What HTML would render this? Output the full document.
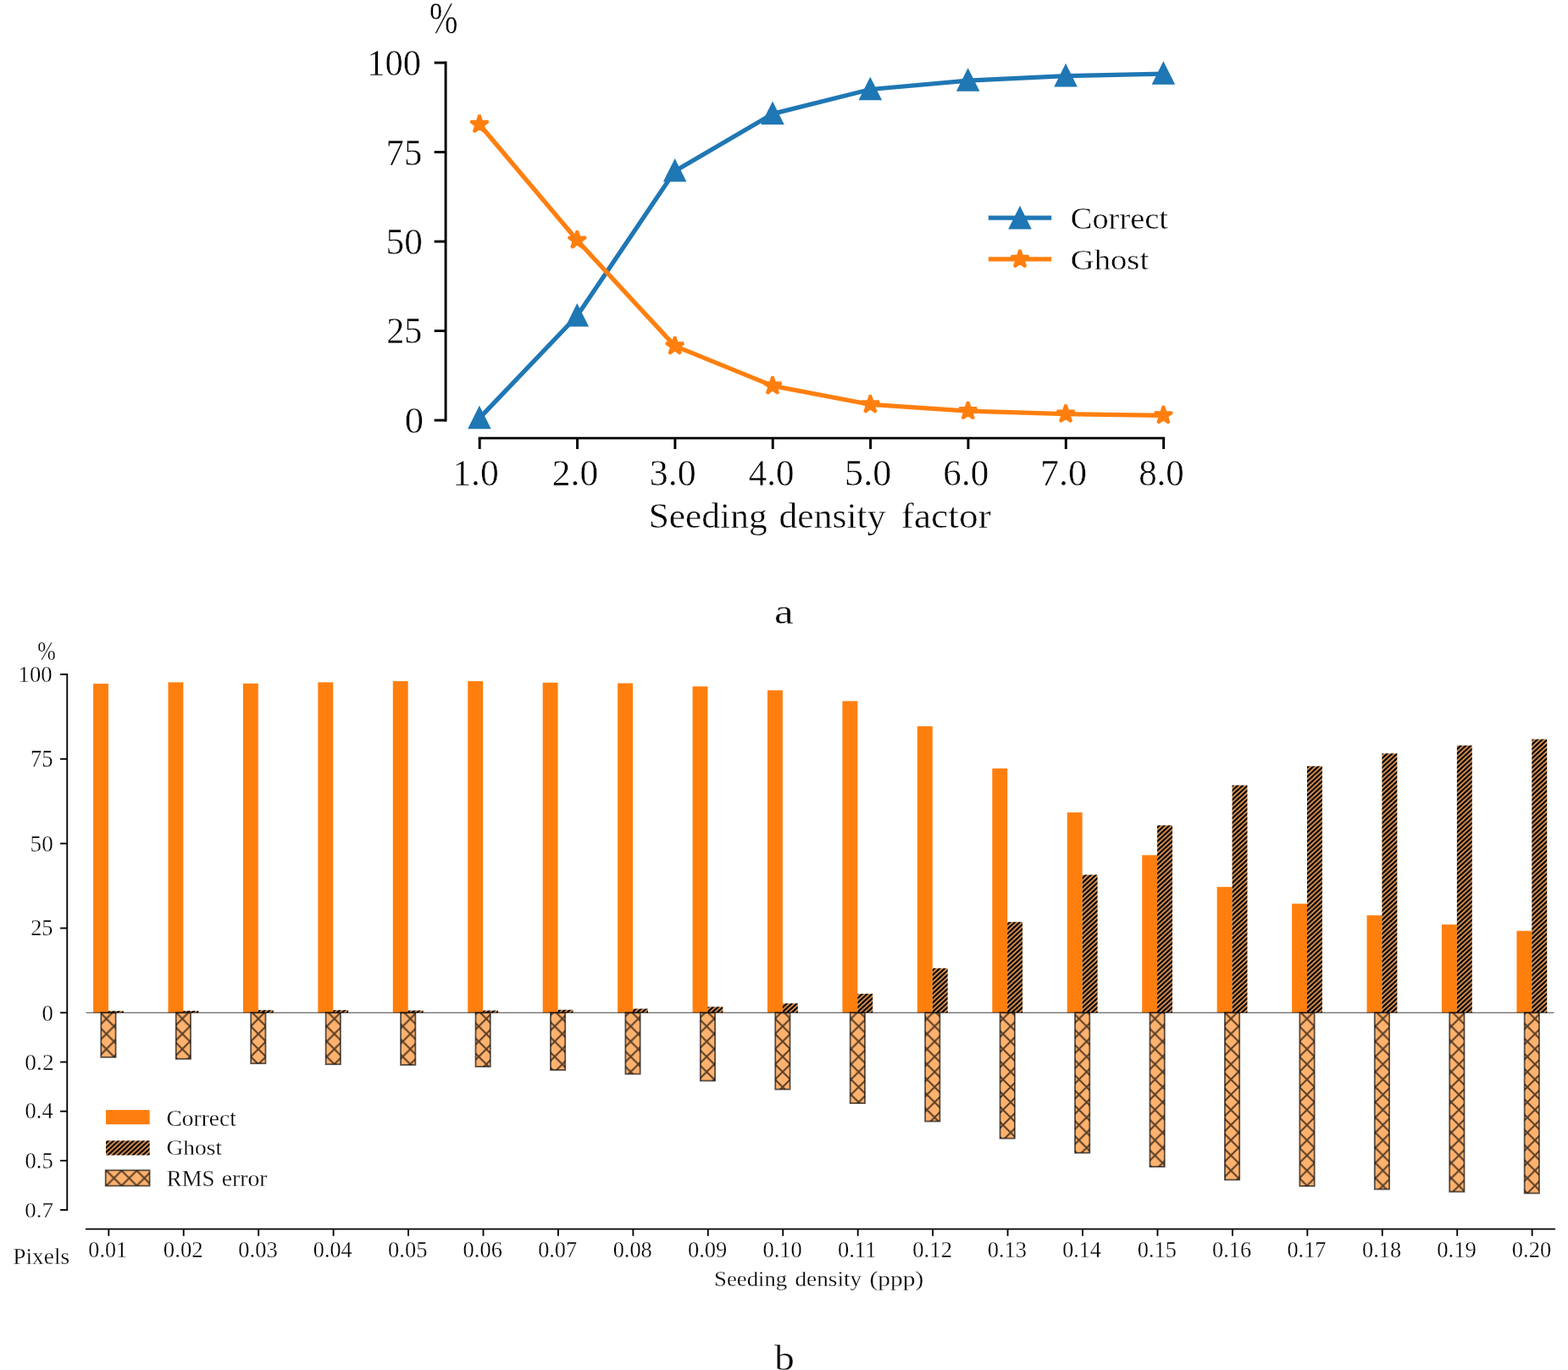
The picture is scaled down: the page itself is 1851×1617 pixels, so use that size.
<!DOCTYPE html>
<html lang="en">
<head>
<meta charset="utf-8">
<title>Seeding density: correct vs ghost particles</title>
<style>html,body{margin:0;padding:0;background:#fff;overflow:hidden}svg{display:block}text{font-family:"Liberation Serif",serif;fill:#000;stroke:#fff}</style>
</head>
<body>
<svg width="1851" height="1617" viewBox="0 0 1851 1617">
<defs>
<pattern id="hg" patternUnits="userSpaceOnUse" x="0.96" y="3.25" width="5.9" height="5.45">
<rect width="5.9" height="5.45" fill="#ffa75b"/>
<path d="M-5.9 10.9 L5.9 0 M0 10.9 L11.8 0 M-5.9 5.45 L5.9 -5.45" stroke="#000" stroke-width="2.4" fill="none"/>
</pattern>
<pattern id="hx" patternUnits="userSpaceOnUse" x="17.92" y="1.76" width="17.94" height="17.92">
<rect width="17.94" height="17.92" fill="#ffb26e"/>
<path d="M-17.94 -17.92 L35.88 35.84 M-17.94 35.84 L35.88 -17.92" stroke="#000" stroke-opacity="0.65" stroke-width="2" fill="none"/>
</pattern>
</defs>
<rect width="1851" height="1617" fill="#fff"/>
<g id="chart-a">
<g stroke="#000" stroke-width="2.95" fill="none">
<path d="M526.1 72.58 V497.53"/>
<path d="M564.73 517.13 H1375.12"/>
<path d="M512.65 74.05 H526.1"/>
<path d="M512.65 179.55 H526.1"/>
<path d="M512.65 285.05 H526.1"/>
<path d="M512.65 390.55 H526.1"/>
<path d="M512.65 496.05 H526.1"/>
<path d="M566.2 517.13 V530"/>
<path d="M681.55 517.13 V530"/>
<path d="M796.9 517.13 V530"/>
<path d="M912.25 517.13 V530"/>
<path d="M1027.6 517.13 V530"/>
<path d="M1142.95 517.13 V530"/>
<path d="M1258.3 517.13 V530"/>
<path d="M1373.65 517.13 V530"/>
</g>
<path d="M565.95 493.6 L681.3 372.8 L796.65 201.9 L912 134.4 L1027.35 105.5 L1142.7 95.1 L1258.05 89.7 L1373.4 87.1" fill="none" stroke="#1f77b4" stroke-width="5.25" stroke-linejoin="round"/>
<path d="M565.95 482.65 L555 504.55 L576.9 504.55 Z" fill="#1f77b4" stroke="#1f77b4" stroke-width="3.5" stroke-linejoin="miter" stroke-miterlimit="10"/>
<path d="M681.3 361.85 L670.35 383.75 L692.25 383.75 Z" fill="#1f77b4" stroke="#1f77b4" stroke-width="3.5" stroke-linejoin="miter" stroke-miterlimit="10"/>
<path d="M796.65 190.95 L785.7 212.85 L807.6 212.85 Z" fill="#1f77b4" stroke="#1f77b4" stroke-width="3.5" stroke-linejoin="miter" stroke-miterlimit="10"/>
<path d="M912 123.45 L901.05 145.35 L922.95 145.35 Z" fill="#1f77b4" stroke="#1f77b4" stroke-width="3.5" stroke-linejoin="miter" stroke-miterlimit="10"/>
<path d="M1027.35 94.55 L1016.4 116.45 L1038.3 116.45 Z" fill="#1f77b4" stroke="#1f77b4" stroke-width="3.5" stroke-linejoin="miter" stroke-miterlimit="10"/>
<path d="M1142.7 84.15 L1131.75 106.05 L1153.65 106.05 Z" fill="#1f77b4" stroke="#1f77b4" stroke-width="3.5" stroke-linejoin="miter" stroke-miterlimit="10"/>
<path d="M1258.05 78.75 L1247.1 100.65 L1269 100.65 Z" fill="#1f77b4" stroke="#1f77b4" stroke-width="3.5" stroke-linejoin="miter" stroke-miterlimit="10"/>
<path d="M1373.4 76.15 L1362.45 98.05 L1384.35 98.05 Z" fill="#1f77b4" stroke="#1f77b4" stroke-width="3.5" stroke-linejoin="miter" stroke-miterlimit="10"/>
<path d="M565.95 146.8 L681.3 283.5 L796.65 408.4 L912 455.4 L1027.35 477.4 L1142.7 485.1 L1258.05 488.7 L1373.4 490.3" fill="none" stroke="#ff7f0e" stroke-width="5.25" stroke-linejoin="round"/>
<path d="M565.95 135.9 L568.4 143.43 L576.32 143.43 L569.91 148.09 L572.36 155.62 L565.95 150.96 L559.54 155.62 L561.99 148.09 L555.58 143.43 L563.5 143.43 Z" fill="#ff7f0e" stroke="#ff7f0e" stroke-width="3.5" stroke-linejoin="bevel"/>
<path d="M681.3 272.6 L683.75 280.13 L691.67 280.13 L685.26 284.79 L687.71 292.32 L681.3 287.66 L674.89 292.32 L677.34 284.79 L670.93 280.13 L678.85 280.13 Z" fill="#ff7f0e" stroke="#ff7f0e" stroke-width="3.5" stroke-linejoin="bevel"/>
<path d="M796.65 397.5 L799.1 405.03 L807.02 405.03 L800.61 409.69 L803.06 417.22 L796.65 412.56 L790.24 417.22 L792.69 409.69 L786.28 405.03 L794.2 405.03 Z" fill="#ff7f0e" stroke="#ff7f0e" stroke-width="3.5" stroke-linejoin="bevel"/>
<path d="M912 444.5 L914.45 452.03 L922.37 452.03 L915.96 456.69 L918.41 464.22 L912 459.56 L905.59 464.22 L908.04 456.69 L901.63 452.03 L909.55 452.03 Z" fill="#ff7f0e" stroke="#ff7f0e" stroke-width="3.5" stroke-linejoin="bevel"/>
<path d="M1027.35 466.5 L1029.8 474.03 L1037.72 474.03 L1031.31 478.69 L1033.76 486.22 L1027.35 481.56 L1020.94 486.22 L1023.39 478.69 L1016.98 474.03 L1024.9 474.03 Z" fill="#ff7f0e" stroke="#ff7f0e" stroke-width="3.5" stroke-linejoin="bevel"/>
<path d="M1142.7 474.2 L1145.15 481.73 L1153.07 481.73 L1146.66 486.39 L1149.11 493.92 L1142.7 489.26 L1136.29 493.92 L1138.74 486.39 L1132.33 481.73 L1140.25 481.73 Z" fill="#ff7f0e" stroke="#ff7f0e" stroke-width="3.5" stroke-linejoin="bevel"/>
<path d="M1258.05 477.8 L1260.5 485.33 L1268.42 485.33 L1262.01 489.99 L1264.46 497.52 L1258.05 492.86 L1251.64 497.52 L1254.09 489.99 L1247.68 485.33 L1255.6 485.33 Z" fill="#ff7f0e" stroke="#ff7f0e" stroke-width="3.5" stroke-linejoin="bevel"/>
<path d="M1373.4 479.4 L1375.85 486.93 L1383.77 486.93 L1377.36 491.59 L1379.81 499.12 L1373.4 494.46 L1366.99 499.12 L1369.44 491.59 L1363.03 486.93 L1370.95 486.93 Z" fill="#ff7f0e" stroke="#ff7f0e" stroke-width="3.5" stroke-linejoin="bevel"/>
<path d="M1166.9 257.1 H1241.2" stroke="#1f77b4" stroke-width="5.25" fill="none"/>
<path d="M1204 246.75 L1193.05 268.65 L1214.95 268.65 Z" fill="#1f77b4" stroke="#1f77b4" stroke-width="3.5" stroke-linejoin="miter" stroke-miterlimit="10"/>
<path d="M1166.9 305.9 H1241.2" stroke="#ff7f0e" stroke-width="5.25" fill="none"/>
<path d="M1204 295 L1206.45 302.53 L1214.37 302.53 L1207.96 307.19 L1210.41 314.72 L1204 310.06 L1197.59 314.72 L1200.04 307.19 L1193.63 302.53 L1201.55 302.53 Z" fill="#ff7f0e" stroke="#ff7f0e" stroke-width="3.5" stroke-linejoin="bevel"/>
</g>
<g id="chart-b">
<g fill="#ff7f0e">
<rect x="110.05" y="806.9" width="17.9" height="388.4"/>
<rect x="198.49" y="805.3" width="17.9" height="390"/>
<rect x="286.93" y="806.7" width="17.9" height="388.6"/>
<rect x="375.37" y="805.3" width="17.9" height="390"/>
<rect x="463.81" y="804" width="17.9" height="391.3"/>
<rect x="552.25" y="804" width="17.9" height="391.3"/>
<rect x="640.69" y="805.7" width="17.9" height="389.6"/>
<rect x="729.13" y="806.4" width="17.9" height="388.9"/>
<rect x="817.57" y="810.2" width="17.9" height="385.1"/>
<rect x="906.01" y="814.7" width="17.9" height="380.6"/>
<rect x="994.45" y="827.5" width="17.9" height="367.8"/>
<rect x="1082.89" y="857.2" width="17.9" height="338.1"/>
<rect x="1171.33" y="907" width="17.9" height="288.3"/>
<rect x="1259.77" y="958.9" width="17.9" height="236.4"/>
<rect x="1348.21" y="1009.3" width="17.9" height="186"/>
<rect x="1436.65" y="1046.8" width="17.9" height="148.5"/>
<rect x="1525.09" y="1066.6" width="17.9" height="128.7"/>
<rect x="1613.53" y="1080.3" width="17.9" height="115"/>
<rect x="1701.97" y="1091.2" width="17.9" height="104.1"/>
<rect x="1790.41" y="1098.7" width="17.9" height="96.6"/>
</g>
<g fill="url(#hg)">
<rect x="127.95" y="1193.2" width="17.9" height="2.1"/>
<rect x="216.39" y="1193" width="17.9" height="2.3"/>
<rect x="304.83" y="1192.2" width="17.9" height="3.1"/>
<rect x="393.27" y="1192.2" width="17.9" height="3.1"/>
<rect x="481.71" y="1192.6" width="17.9" height="2.7"/>
<rect x="570.15" y="1192.6" width="17.9" height="2.7"/>
<rect x="658.59" y="1191.8" width="17.9" height="3.5"/>
<rect x="747.03" y="1190.6" width="17.9" height="4.7"/>
<rect x="835.47" y="1188.3" width="17.9" height="7"/>
<rect x="923.91" y="1184.3" width="17.9" height="11"/>
<rect x="1012.35" y="1172.9" width="17.9" height="22.4"/>
<rect x="1100.79" y="1142.8" width="17.9" height="52.5"/>
<rect x="1189.23" y="1088.2" width="17.9" height="107.1"/>
<rect x="1277.67" y="1032.5" width="17.9" height="162.8"/>
<rect x="1366.11" y="974.2" width="17.9" height="221.1"/>
<rect x="1454.55" y="926.8" width="17.9" height="268.5"/>
<rect x="1542.99" y="904.3" width="17.9" height="291"/>
<rect x="1631.43" y="889.3" width="17.9" height="306"/>
<rect x="1719.87" y="879.8" width="17.9" height="315.5"/>
<rect x="1808.31" y="872.5" width="17.9" height="322.8"/>
</g>
<g fill="url(#hx)" stroke="#000" stroke-opacity="0.65" stroke-width="1.8">
<rect x="119.3" y="1195.3" width="17.3" height="52.5"/>
<rect x="207.74" y="1195.3" width="17.3" height="54.5"/>
<rect x="296.18" y="1195.3" width="17.3" height="59.9"/>
<rect x="384.62" y="1195.3" width="17.3" height="60.9"/>
<rect x="473.06" y="1195.3" width="17.3" height="61.6"/>
<rect x="561.5" y="1195.3" width="17.3" height="63.6"/>
<rect x="649.94" y="1195.3" width="17.3" height="67.6"/>
<rect x="738.38" y="1195.3" width="17.3" height="72.3"/>
<rect x="826.82" y="1195.3" width="17.3" height="80.3"/>
<rect x="915.26" y="1195.3" width="17.3" height="90.4"/>
<rect x="1003.7" y="1195.3" width="17.3" height="106.8"/>
<rect x="1092.14" y="1195.3" width="17.3" height="128.2"/>
<rect x="1180.58" y="1195.3" width="17.3" height="148.3"/>
<rect x="1269.02" y="1195.3" width="17.3" height="165.4"/>
<rect x="1357.46" y="1195.3" width="17.3" height="181.8"/>
<rect x="1445.9" y="1195.3" width="17.3" height="197.2"/>
<rect x="1534.34" y="1195.3" width="17.3" height="204.6"/>
<rect x="1622.78" y="1195.3" width="17.3" height="208.3"/>
<rect x="1711.22" y="1195.3" width="17.3" height="211.3"/>
<rect x="1799.66" y="1195.3" width="17.3" height="213.1"/>
</g>
<path d="M101.7 1195.3 H1834.6" stroke="#000" stroke-opacity="0.75" stroke-width="1.1" fill="none"/>
<g stroke="#000" stroke-width="1.85" fill="none">
<path d="M79.26 795.03 V1428.97"/>
<path d="M100.9 1450.6 H1836"/>
<path d="M71.1 795.95 H79.26"/>
<path d="M71.1 895.8 H79.26"/>
<path d="M71.1 995.6 H79.26"/>
<path d="M71.1 1095.5 H79.26"/>
<path d="M71.1 1195.3 H79.26"/>
<path d="M71.1 1253.5 H79.26"/>
<path d="M71.1 1311.65 H79.26"/>
<path d="M71.1 1369.85 H79.26"/>
<path d="M71.1 1428.05 H79.26"/>
<path d="M128.3 1450.6 V1458.8"/>
<path d="M216.74 1450.6 V1458.8"/>
<path d="M305.18 1450.6 V1458.8"/>
<path d="M393.62 1450.6 V1458.8"/>
<path d="M482.06 1450.6 V1458.8"/>
<path d="M570.5 1450.6 V1458.8"/>
<path d="M658.94 1450.6 V1458.8"/>
<path d="M747.38 1450.6 V1458.8"/>
<path d="M835.82 1450.6 V1458.8"/>
<path d="M924.26 1450.6 V1458.8"/>
<path d="M1012.7 1450.6 V1458.8"/>
<path d="M1101.14 1450.6 V1458.8"/>
<path d="M1189.58 1450.6 V1458.8"/>
<path d="M1278.02 1450.6 V1458.8"/>
<path d="M1366.46 1450.6 V1458.8"/>
<path d="M1454.9 1450.6 V1458.8"/>
<path d="M1543.34 1450.6 V1458.8"/>
<path d="M1631.78 1450.6 V1458.8"/>
<path d="M1720.22 1450.6 V1458.8"/>
<path d="M1808.66 1450.6 V1458.8"/>
</g>
<rect x="125" y="1310.1" width="51.7" height="17" fill="#ff7f0e"/>
<rect x="125" y="1346.3" width="51.7" height="17.2" fill="url(#hg)"/>
<rect x="124.7" y="1381.3" width="51.9" height="18.3" fill="url(#hx)" stroke="#000" stroke-opacity="0.65" stroke-width="1.8"/>
</g>
<g id="labels">
<text transform="matrix(0.779 0 0 1 506.82 38.5)" font-size="52.07" stroke-width="0.57">%</text>
<text transform="matrix(0.9782 0 0 1 433.36 89.03)" font-size="43.46" stroke-width="0.48">100</text>
<text transform="matrix(0.9656 0 0 1 455.62 194.67)" font-size="44.31" stroke-width="0.49">75</text>
<text transform="matrix(0.9906 0 0 1 455.55 299.68)" font-size="43.69" stroke-width="0.48">50</text>
<text transform="matrix(0.9545 0 0 1 456.25 405.33)" font-size="44.14" stroke-width="0.49">25</text>
<text transform="matrix(1.0316 0 0 1 477.77 510.84)" font-size="43.25" stroke-width="0.48">0</text>
<text transform="matrix(0.9985 0 0 1 534.27 572.53)" font-size="43.75" stroke-width="0.48">1.0</text>
<text transform="matrix(0.9844 0 0 1 651.87 572.52)" font-size="44.13" stroke-width="0.49">2.0</text>
<text transform="matrix(0.9961 0 0 1 766.69 572.52)" font-size="44.13" stroke-width="0.49">3.0</text>
<text transform="matrix(0.9761 0 0 1 883.82 572.52)" font-size="44.13" stroke-width="0.49">4.0</text>
<text transform="matrix(1.0015 0 0 1 997.11 572.52)" font-size="44.13" stroke-width="0.49">5.0</text>
<text transform="matrix(0.9767 0 0 1 1113.34 572.52)" font-size="44.13" stroke-width="0.49">6.0</text>
<text transform="matrix(0.9999 0 0 1 1227.88 572.52)" font-size="44.13" stroke-width="0.49">7.0</text>
<text transform="matrix(0.982 0 0 1 1344.15 572.53)" font-size="43.75" stroke-width="0.48">8.0</text>
<g aria-label="Seeding density factor">
<text transform="matrix(1.0331 0 0 1 765.63 622.51)" font-size="42.08" stroke-width="0.46">Seeding</text>
<text transform="matrix(1.0372 0 0 1 919.48 622.51)" font-size="42.08" stroke-width="0.46">density</text>
<text transform="matrix(1.0815 0 0 1 1063.77 622.51)" font-size="42.08" stroke-width="0.46">factor</text>
</g>
<text transform="matrix(1.2122 0 0 1 914.07 735.56)" font-size="42.28" stroke-width="0.47">a</text>
<text transform="matrix(1.1013 0 0 1 1263.79 270.2)" font-size="34.88" stroke-width="0.38">Correct</text>
<text transform="matrix(1.1634 0 0 1 1263.79 318.38)" font-size="33.24" stroke-width="0.37">Ghost</text>
<text transform="matrix(0.7996 0 0 1 44.13 778.6)" font-size="32.4" stroke-width="0.36">%</text>
<text transform="matrix(0.9757 0 0 1 21.56 805.29)" font-size="27.32" stroke-width="0.3">100</text>
<text transform="matrix(0.9373 0 0 1 35.88 905.12)" font-size="28.39" stroke-width="0.31">75</text>
<text transform="matrix(0.9937 0 0 1 35.61 1005.14)" font-size="27.32" stroke-width="0.3">50</text>
<text transform="matrix(0.9636 0 0 1 36.16 1104.29)" font-size="27.32" stroke-width="0.3">25</text>
<text transform="matrix(0.9801 0 0 1 49.61 1204.78)" font-size="27.25" stroke-width="0.3">0</text>
<text transform="matrix(1.002 0 0 1 29.28 1262.83)" font-size="27.44" stroke-width="0.3">0.2</text>
<text transform="matrix(0.9833 0 0 1 29.57 1320.23)" font-size="26.93" stroke-width="0.3">0.4</text>
<text transform="matrix(0.9746 0 0 1 29.56 1378.58)" font-size="27.23" stroke-width="0.3">0.5</text>
<text transform="matrix(1.0299 0 0 1 29.3 1436.6)" font-size="26.13" stroke-width="0.29">0.7</text>
<text transform="matrix(0.9711 0 0 1 104.32 1484.18)" font-size="26.93" stroke-width="0.3">0.01</text>
<text transform="matrix(0.9942 0 0 1 192.82 1484.18)" font-size="26.93" stroke-width="0.3">0.02</text>
<text transform="matrix(0.985 0 0 1 281.34 1484.18)" font-size="26.93" stroke-width="0.3">0.03</text>
<text transform="matrix(0.9704 0 0 1 369.86 1484.18)" font-size="26.93" stroke-width="0.3">0.04</text>
<text transform="matrix(0.985 0 0 1 458.1 1484.18)" font-size="26.93" stroke-width="0.3">0.05</text>
<text transform="matrix(0.9816 0 0 1 546.61 1484.18)" font-size="26.93" stroke-width="0.3">0.06</text>
<text transform="matrix(0.976 0 0 1 635.13 1484.18)" font-size="26.93" stroke-width="0.3">0.07</text>
<text transform="matrix(0.9794 0 0 1 723.64 1484.18)" font-size="26.93" stroke-width="0.3">0.08</text>
<text transform="matrix(0.985 0 0 1 811.89 1484.18)" font-size="26.93" stroke-width="0.3">0.09</text>
<text transform="matrix(0.985 0 0 1 900.4 1484.18)" font-size="26.93" stroke-width="0.3">0.10</text>
<text transform="matrix(0.9873 0 0 1 988.92 1484.18)" font-size="26.93" stroke-width="0.3">0.11</text>
<text transform="matrix(0.9942 0 0 1 1077.17 1484.18)" font-size="26.93" stroke-width="0.3">0.12</text>
<text transform="matrix(0.985 0 0 1 1165.68 1484.18)" font-size="26.93" stroke-width="0.3">0.13</text>
<text transform="matrix(0.9704 0 0 1 1254.21 1484.18)" font-size="26.93" stroke-width="0.3">0.14</text>
<text transform="matrix(0.9794 0 0 1 1342.71 1484.18)" font-size="26.93" stroke-width="0.3">0.15</text>
<text transform="matrix(0.9816 0 0 1 1430.97 1484.18)" font-size="26.93" stroke-width="0.3">0.16</text>
<text transform="matrix(0.976 0 0 1 1519.48 1484.18)" font-size="26.93" stroke-width="0.3">0.17</text>
<text transform="matrix(0.9794 0 0 1 1607.99 1484.18)" font-size="26.93" stroke-width="0.3">0.18</text>
<text transform="matrix(0.9907 0 0 1 1696.24 1484.18)" font-size="26.93" stroke-width="0.3">0.19</text>
<text transform="matrix(0.985 0 0 1 1784.76 1484.18)" font-size="26.93" stroke-width="0.3">0.20</text>
<text transform="matrix(1.0307 0 0 1 15.27 1491.64)" font-size="26.57" stroke-width="0.29">Pixels</text>
<g aria-label="Seeding density (ppp)">
<text transform="matrix(1.0199 0 0 1 843.08 1517.5)" font-size="26.2" stroke-width="0.29">Seeding</text>
<text transform="matrix(1.0413 0 0 1 938.4 1517.5)" font-size="26.2" stroke-width="0.29">density</text>
<text transform="matrix(1.1252 0 0 1 1026.42 1517.5)" font-size="26.2" stroke-width="0.29">(ppp)</text>
</g>
<text transform="matrix(1.1116 0 0 1 913.94 1616.74)" font-size="42.98" stroke-width="0.47">b</text>
<text transform="matrix(0.9919 0 0 1 196.49 1328.71)" font-size="27.71" stroke-width="0.3">Correct</text>
<text transform="matrix(1.0506 0 0 1 196.49 1363.48)" font-size="26.15" stroke-width="0.29">Ghost</text>
<g aria-label="RMS error">
<text transform="matrix(1.0049 0 0 1 196.67 1399.93)" font-size="26.81" stroke-width="0.29">RMS</text>
<text transform="matrix(1.0361 0 0 1 261.63 1399.93)" font-size="26.81" stroke-width="0.29">error</text>
</g>
</g>
</svg>
</body>
</html>
